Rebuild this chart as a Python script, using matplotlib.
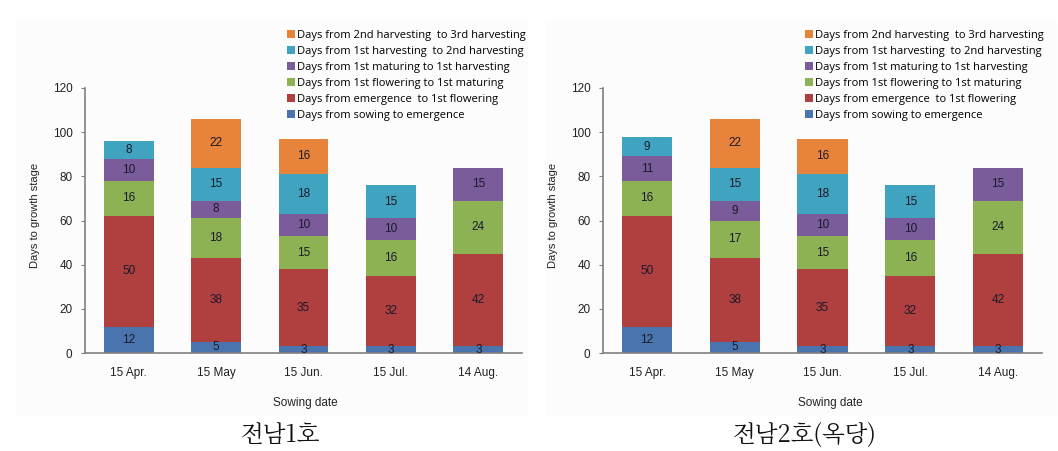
import matplotlib.pyplot as plt
import matplotlib.patches as mpatches
import numpy as np

plt.rcParams['font.family'] = ['Liberation Sans', 'DejaVu Sans']

dates = ['15 Apr.', '15 May', '15 Jun.', '15 Jul.', '14 Aug.']
stages = ['Days from sowing to emergence',
          'Days from emergence  to 1st flowering',
          'Days from 1st flowering to 1st maturing',
          'Days from 1st maturing to 1st harvesting',
          'Days from 1st harvesting  to 2nd harvesting',
          'Days from 2nd harvesting  to 3rd harvesting']
colors = ['#4a74ad', '#b0403f', '#8db254', '#7a5c9b', '#40a3bf', '#e8833c']

# cultivar 1 (전남1호), one list per stage, 0 = no segment
c1_sowing = [12, 5, 3, 3, 3]
c1_emerg = [50, 38, 35, 32, 42]
c1_flower = [16, 18, 15, 16, 24]
c1_mature = [10, 8, 10, 10, 15]
c1_harv1 = [8, 15, 18, 15, 0]
c1_harv2 = [0, 22, 16, 0, 0]

# cultivar 2 (전남2호(옥당))
c2_sowing = [12, 5, 3, 3, 3]
c2_emerg = [50, 38, 35, 32, 42]
c2_flower = [16, 17, 15, 16, 24]
c2_mature = [11, 9, 10, 10, 15]
c2_harv1 = [9, 15, 18, 15, 0]
c2_harv2 = [0, 22, 16, 0, 0]

panels = [
    ([c1_sowing, c1_emerg, c1_flower, c1_mature, c1_harv1, c1_harv2], '전남1호'),
    ([c2_sowing, c2_emerg, c2_flower, c2_mature, c2_harv1, c2_harv2], '전남2호(옥당)'),
]

fig = plt.figure(figsize=(10.58, 4.51), dpi=100)

# faint grey chart-area backgrounds
for x0 in [16 / 1058, 545 / 1058]:
    fig.patches.append(mpatches.Rectangle((x0, 1 - 416 / 451), 512 / 1058, 396 / 451,
                                          transform=fig.transFigure, facecolor='#fcfcfc',
                                          edgecolor='none', zorder=-5))

ax_pos = [(85 / 1058, 437 / 1058), (603 / 1058, 439 / 1058)]
legend_x = [287 / 1058, 805 / 1058]
xlabel_x = [305 / 1058, 830 / 1058]
caption_x = [280 / 1058, 805 / 1058]
ylabel_x = [35 / 1058, 553 / 1058]

bottom_frac = 1 - 353 / 451
height_frac = (353 - 88) / 451
x = np.arange(len(dates))

for i, (series, caption) in enumerate(panels):
    ax = fig.add_axes([ax_pos[i][0], bottom_frac, ax_pos[i][1], height_frac])
    ax.patch.set_alpha(0)
    bottom = np.zeros(len(dates))
    handles = []
    for vals, col, name in zip(series, colors, stages):
        vals = np.array(vals, dtype=float)
        bars = ax.bar(x, vals, 0.57, bottom=bottom, color=col, label=name, zorder=2)
        handles.append(bars)
        for xi, v, b in zip(x, vals, bottom):
            if v > 0:
                ax.text(xi, b + v / 2, f'{int(v)}', ha='center', va='center',
                        fontsize=8.5, color='#1a1a2a', zorder=3)
        bottom += vals

    ax.set_xlim(-0.5, 4.5)
    ax.set_ylim(0, 120)
    ax.set_yticks(range(0, 121, 20))
    ax.set_xticks(x)
    ax.set_xticklabels(dates)
    for s in ['top', 'right']:
        ax.spines[s].set_visible(False)
    for s in ['left', 'bottom']:
        ax.spines[s].set_color('#808080')
        ax.spines[s].set_linewidth(1.2)
    ax.tick_params(axis='y', length=3, color='#808080', labelsize=8.5, pad=6, labelcolor='#222222')
    ax.tick_params(axis='x', length=0, labelsize=8.5, pad=10, labelcolor='#222222')

    fig.text(ylabel_x[i], 1 - 215 / 451, 'Days to growth stage', rotation=90,
             ha='center', va='center', fontsize=8, color='#222222')
    fig.text(xlabel_x[i], 1 - 403 / 451, 'Sowing date', ha='center', va='center',
             fontsize=8.5, color='#222222')
    fig.text(caption_x[i], 1 - 435 / 451, caption, ha='center', va='center',
             fontsize=17, family=['Noto Serif CJK KR', 'Noto Sans CJK KR', 'DejaVu Sans'],
             color='#111111')

    fig.legend(handles[::-1], stages[::-1], loc='upper left',
               bbox_to_anchor=(legend_x[i], 1 - 30 / 451), frameon=False,
               handlelength=0.7, handleheight=0.7, handletextpad=0.2,
               labelspacing=0.45, borderaxespad=0, borderpad=0,
               prop={'family': ['Open Sans', 'DejaVu Sans'], 'size': 8.0})

fig.savefig('out.png', dpi=100)
